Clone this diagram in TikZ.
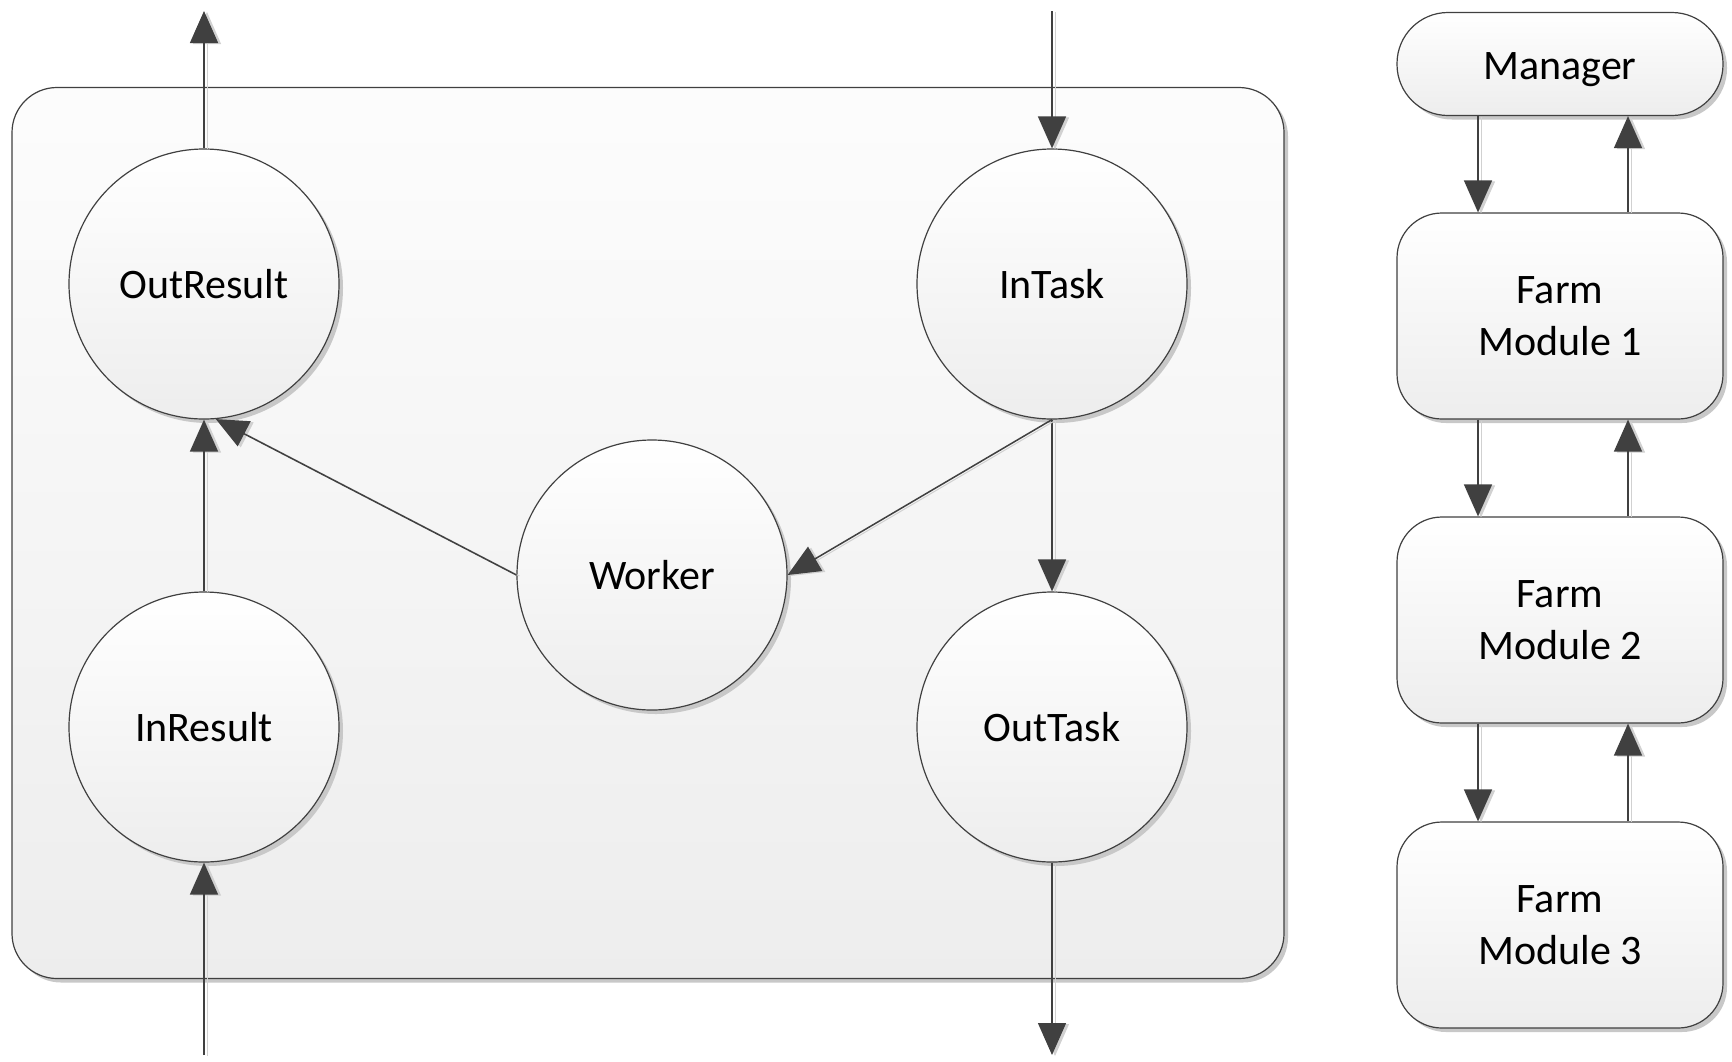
\documentclass[tikz,border=0pt]{standalone}
\usepackage{fontspec}
\setmainfont{Carlito}
\usepackage{tikz}
\usetikzlibrary{positioning, arrows.meta, shadows}

\definecolor{edgegray}{HTML}{404040}
\definecolor{shadegray}{HTML}{C8C8C8}

\begin{document}
\begin{tikzpicture}[
    x=1pt, y=-1pt,
    font=\fontsize{42}{52}\selectfont,
    boxshadow/.style={drop shadow={shadow xshift=4pt, shadow yshift=-4pt, fill=shadegray, opacity=1}},
    qnode/.style={circle, draw=edgegray, line width=1.2pt, minimum size=270pt, inner sep=0pt, top color=white, bottom color=black!7, boxshadow},
    mnode/.style={draw=edgegray, line width=1.2pt, rounded corners=45pt, minimum width=326pt, minimum height=206pt, align=center, top color=white, bottom color=black!7, boxshadow},
    link/.style={draw=edgegray, line width=1.5pt, -{Triangle[length=32pt, width=28pt]},
        preaction={draw=black!18, line width=1pt, transform canvas={shift={(3pt,-1pt)}}}}
]
\useasboundingbox (0,0) rectangle (1732,1061);

% farm module
\node[draw=edgegray, line width=1.2pt, rounded corners=45pt, minimum width=1272pt, minimum height=891pt, top color=black!1, bottom color=black!7, boxshadow] (farm) at (648,533) {};

\node[qnode] (outres) at (204,284) {OutResult};
\node[qnode] (intask) at (1052,284) {InTask};
\node[qnode] (worker) at (652,575) {Worker};
\node[qnode] (inres) at (204,727) {InResult};
\node[qnode] (outtask) at (1052,727) {OutTask};

\coordinate (resup) at (204,11);
\coordinate (taskin) at (1052,11);
\coordinate (resin) at (204,1055);
\coordinate (taskout) at (1052,1055);

\draw[link] (outres.north) -- (resup);
\draw[link] (taskin) -- (intask.north);
\draw[link] (resin) -- (inres.south);
\draw[link] (outtask.south) -- (taskout);
\draw[link] (inres.north) -- (outres.south);
\draw[link] (intask.south) -- (outtask.north);
\draw[link] (intask.south) -- (worker.east);
\draw[link] (worker.west) -- (outres.-85);

% chain of modules
\node[mnode, rounded corners=51pt, minimum height=103pt, text height=31pt, text depth=0pt] (mgr) at (1560,64) {Manager};
\node[mnode] (fm1) at (1560,316) {Farm\\Module 1};
\node[mnode] (fm2) at (1560,620) {Farm\\Module 2};
\node[mnode] (fm3) at (1560,925) {Farm\\Module 3};

\draw[link] ([xshift=-82pt]mgr.south) -- ([xshift=-82pt]fm1.north);
\draw[link] ([xshift=68pt]fm1.north) -- ([xshift=68pt]mgr.south);
\draw[link] ([xshift=-82pt]fm1.south) -- ([xshift=-82pt]fm2.north);
\draw[link] ([xshift=68pt]fm2.north) -- ([xshift=68pt]fm1.south);
\draw[link] ([xshift=-82pt]fm2.south) -- ([xshift=-82pt]fm3.north);
\draw[link] ([xshift=68pt]fm3.north) -- ([xshift=68pt]fm2.south);
\end{tikzpicture}
\end{document}
